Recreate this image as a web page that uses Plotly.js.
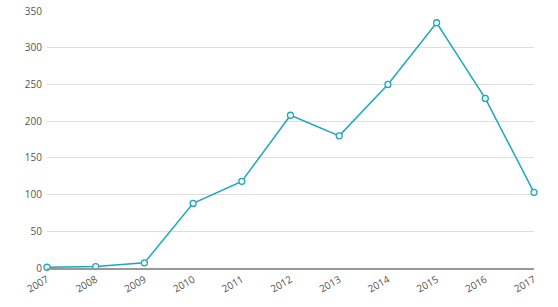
<!DOCTYPE html>
<html>
<head>
<meta charset="utf-8">
<script src="https://cdn.plot.ly/plotly-3.0.1.min.js"></script>
<style>html,body{margin:0;padding:0;background:#fff;}#chart{width:558px;height:307px;}</style>
</head>
<body>
<div id="chart"></div>
<script>
const years = [2007, 2008, 2009, 2010, 2011, 2012, 2013, 2014, 2015, 2016, 2017];
const values = [1, 2, 7, 88, 118, 208, 180, 250, 334, 231, 103];
const yTicks = [0, 50, 100, 150, 200, 250, 300, 350];

Plotly.newPlot('chart', [{
  x: years,
  y: values,
  type: 'scatter',
  mode: 'lines+markers',
  cliponaxis: false,
  line: {color: '#1ba8bd', width: 1.5},
  marker: {symbol: 'circle', size: 6, color: '#ffffff', line: {color: '#1ba8bd', width: 1.3}},
  hoverinfo: 'x+y'
}], {
  width: 558, height: 307,
  margin: {l: 47, r: 24, t: 11, b: 39},
  paper_bgcolor: '#fff', plot_bgcolor: '#fff',
  showlegend: false,
  font: {family: 'Open Sans, sans-serif', size: 10, color: '#555'},
  xaxis: {
    range: [2007, 2017],
    tickvals: years,
    ticktext: years.map(String),
    tickangle: -30,
    showgrid: false,
    zeroline: false,
    showline: true,
    linecolor: '#999',
    linewidth: 2,
    ticks: '',
    tickfont: {size: 10, color: '#555'}
  },
  yaxis: {
    range: [0, 350],
    tickvals: yTicks,
    showgrid: true,
    gridcolor: '#dedede',
    gridwidth: 1,
    zeroline: false,
    showline: false,
    ticks: '',
    ticklabelstandoff: 4,
    tickfont: {size: 10, color: '#555'}
  }
}, {staticPlot: true});
</script>
</body>
</html>
